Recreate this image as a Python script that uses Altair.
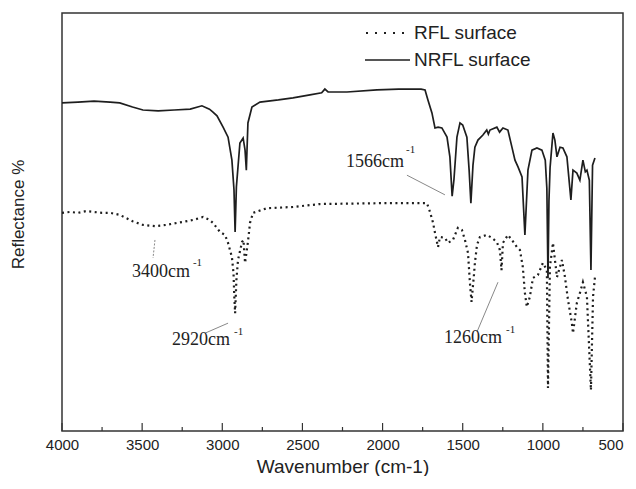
import altair as alt
import pandas as pd

# ---- data ----
nrfl_w = [4000, 3900, 3800, 3700, 3640, 3560, 3495, 3400, 3300, 3200, 3127, 3080, 3058, 3033,
          2995, 2964, 2940, 2927, 2920, 2912, 2890, 2870, 2858, 2850, 2840, 2815, 2765, 2650,
          2559, 2453, 2380, 2360, 2340, 2222, 2035, 1900, 1760, 1735, 1717, 1692, 1673, 1654,
          1630, 1598, 1580, 1566, 1555, 1536, 1517, 1500, 1474, 1460, 1449, 1436, 1424, 1405,
          1374, 1350, 1340, 1330, 1287, 1270, 1249, 1218, 1193, 1174, 1155, 1130, 1112, 1093,
          1068, 1037, 1006, 985, 975, 968, 962, 955, 937, 925, 912, 893, 875, 850, 825, 812,
          788, 769, 750, 735, 725, 710, 700, 690, 675]
nrfl_v = [78.5, 78.7, 78.9, 78.7, 78.5, 77.5, 76.8, 76.6, 76.8, 77.0, 77.8, 77.0, 76.3, 75.4,
          72.7, 70.3, 64.8, 57.7, 47.6, 58.4, 68.9, 70.1, 67.2, 62.4, 73.7, 77.5, 78.7, 79.2,
          79.7, 80.4, 80.9, 81.8, 81.1, 81.1, 81.6, 81.8, 81.8, 81.6, 79.2, 76.1, 72.5, 72.7,
          72.5, 70.3, 65.6, 56.2, 60.0, 70.3, 73.7, 73.2, 70.3, 62.4, 54.5, 63.6, 67.9, 69.6,
          70.8, 72.0, 71.0, 72.0, 72.7, 71.5, 72.5, 72.0, 67.9, 64.8, 63.2, 60.8, 46.9, 62.4,
          67.2, 67.7, 67.2, 64.8, 58.0, 36.6, 55.0, 63.0, 71.3, 69.6, 65.6, 67.9, 67.7, 65.6, 55.3, 62.4,
          61.7, 60.0, 64.8, 62.0, 62.4, 60.0, 38.5, 63.6, 65.3]

rfl_w = [4000, 3950, 3900, 3850, 3800, 3750, 3700, 3640, 3560, 3495, 3420, 3350, 3250, 3180,
         3120, 3080, 3058, 3014, 2983, 2964, 2940, 2930, 2925, 2920, 2912, 2902, 2877, 2868,
         2858, 2840, 2827, 2808, 2721, 2559, 2390, 2016, 1723, 1704, 1685, 1673, 1654, 1642,
         1610, 1592, 1561, 1530, 1505, 1486, 1467, 1455, 1445, 1430, 1424, 1411, 1393, 1349,
         1318, 1287, 1268, 1258, 1249, 1218, 1193, 1162, 1143, 1125, 1112, 1100, 1081, 1062,
         1031, 1000, 975, 968, 956, 937, 912, 881, 862, 843, 819, 812, 788, 769, 750, 725,
         700, 687, 675]
rfl_v = [52.2, 52.4, 52.2, 52.6, 52.4, 52.2, 52.2, 51.7, 50.2, 49.3, 49.0, 49.3, 50.0, 50.5,
         51.2, 50.5, 49.8, 47.6, 46.9, 45.0, 41.6, 37.8, 32.1, 28.2, 36.1, 40.9, 45.2, 45.7,
         40.2, 45.2, 49.8, 52.2, 53.3, 53.6, 54.3, 54.5, 54.5, 52.4, 49.8, 47.4, 44.0, 46.4,
         46.2, 45.0, 45.7, 48.6, 48.1, 45.7, 42.6, 35.4, 30.9, 37.3, 40.2, 44.5, 46.4, 46.9,
         46.2, 45.2, 43.3, 38.5, 45.0, 46.9, 45.7, 44.0, 43.3, 39.2, 33.0, 29.7, 32.1, 36.6,
         37.3, 40.2, 38.5, 10.3, 39.2, 45.0, 36.8, 40.9, 36.8, 31.3, 25.8, 23.4, 30.6, 33.0, 35.6, 32.1,
         9.8, 32.1, 36.8]

assert len(nrfl_w) == len(nrfl_v)
assert len(rfl_w) == len(rfl_v)

tick_labels = [4000, 3500, 3000, 2500, 2000, 1500, 1000, 500]
minor_ticks = [3750, 3250, 2750, 2250, 1750, 1250, 750]

ann_labels = ["1566cm", "3400cm", "2920cm", "1260cm"]
ann_w = [1866, 3201, 2952, 1255]
ann_v = [64.4, 38.0, 21.8, 22.2]
sup_w = [1854, 3183, 2927, 1230]
sup_v = [67.2, 40.2, 23.7, 24.2]
lead_w = [1848, 3420, 3108, 1411]
lead_v = [61.2, 45.7, 23.4, 23.7]
lead_w2 = [1611, 3432, 2964, 1280]
lead_v2 = [56.5, 41.4, 25.8, 35.6]
lead_dash = [False, True, False, False]

legend_names = ["RFL surface", "NRFL surface"]

# ---- tables ----
spec_df = pd.concat([
    pd.DataFrame({"w": nrfl_w, "v": nrfl_v, "series": "NRFL surface"}),
    pd.DataFrame({"w": rfl_w, "v": rfl_v, "series": "RFL surface"}),
])
ticks_df = pd.concat([
    pd.DataFrame({"t": tick_labels, "major": True}),
    pd.DataFrame({"t": minor_ticks, "major": False}),
])
ann_df = pd.DataFrame({"w": ann_w, "v": ann_v, "label": ann_labels,
                       "sw": sup_w, "sv": sup_v, "sup": "-1"})
lead_df = pd.DataFrame({"w": lead_w, "v": lead_v, "w2": lead_w2, "v2": lead_v2, "dash": lead_dash})
leg_df = pd.DataFrame({"name": legend_names})

W, H = 561, 418
xs = alt.Scale(domain=[500, 4000], reverse=True, nice=False, zero=False)
ys = alt.Scale(domain=[0, 100], nice=False, zero=False)
INK = "#1e1e1e"

x_axis = alt.Axis(values=tick_labels, format="d", ticks=False, domain=False, grid=False,
                  labelFlush=False, labelOverlap=False,
                  labelAlign=alt.ExprRef(expr="datum.value == 500 ? 'right' : 'center'"),
                  labelFont="Liberation Sans", labelFontSize=15, labelColor="#222",
                  labelPadding=6, titleFont="Liberation Sans", titleFontSize=19,
                  titleFontWeight="normal", titleColor="#222", titlePadding=5)
y_axis = alt.Axis(labels=False, ticks=False, domain=False, grid=False,
                  titleFont="Liberation Sans", titleFontSize=17,
                  titleFontWeight="normal", titleColor="#222", titleX=-44,
                  titleY=H / 2 - 8, titleAngle=270, titleAlign="center",
                  titleBaseline="middle")
XT = "Wavenumber (cm-1)"
YT = "Reflectance %"


def X(field):
    return alt.X(field, type="quantitative", scale=xs, axis=x_axis, title=XT)


def Y(field):
    return alt.Y(field, type="quantitative", scale=ys, axis=y_axis, title=YT)


base = alt.Chart(spec_df)
nrfl = base.transform_filter(alt.datum.series == "NRFL surface").mark_line(
    color=INK, strokeWidth=1.7, interpolate="linear").encode(x=X("w"), y=Y("v"))
rfl = base.transform_filter(alt.datum.series == "RFL surface").mark_line(
    color=INK, strokeWidth=2.2, strokeDash=[2, 3.5], interpolate="linear").encode(
    x=X("w"), y=Y("v"))

tk = alt.Chart(ticks_df)
major = tk.transform_filter(alt.datum.major).mark_rule(color="#333", strokeWidth=1.2).encode(
    x=X("t"), y=alt.value(H), y2=alt.value(H - 8))
minor = tk.transform_filter(~alt.datum.major).mark_rule(color="#333", strokeWidth=1.2).encode(
    x=X("t"), y=alt.value(H), y2=alt.value(H - 4))

ld = alt.Chart(lead_df)
lead_solid = ld.transform_filter(~alt.datum.dash).mark_rule(color="#555", strokeWidth=0.7).encode(
    x=X("w"), y=Y("v"), x2="w2:Q", y2="v2:Q")
lead_dashed = ld.transform_filter(alt.datum.dash).mark_rule(
    color="#555", strokeWidth=0.7, strokeDash=[2, 1.5]).encode(
    x=X("w"), y=Y("v"), x2="w2:Q", y2="v2:Q")

an = alt.Chart(ann_df)
ann_main = an.mark_text(align="right", baseline="middle", font="Liberation Serif",
                        fontSize=18, color="#222").encode(
    x=X("w"), y=Y("v"), text="label:N")
ann_sup = an.mark_text(align="left", baseline="middle", font="Liberation Serif",
                       fontSize=11, color="#222").encode(
    x=X("sw"), y=Y("sv"), text="sup:N")

lg = alt.Chart(leg_df)
leg_dot = lg.transform_filter(alt.datum.name == legend_names[0]).mark_rule(
    color=INK, strokeWidth=2, strokeDash=[2, 7]).encode(
    x=alt.value(304), x2=alt.value(343), y=alt.value(20))
leg_solid = lg.transform_filter(alt.datum.name == legend_names[1]).mark_rule(
    color=INK, strokeWidth=1.5).encode(
    x=alt.value(303), x2=alt.value(348), y=alt.value(47))
leg_text1 = lg.transform_filter(alt.datum.name == legend_names[0]).mark_text(
    align="left", baseline="middle", font="Liberation Sans", fontSize=19, color="#222").encode(
    x=alt.value(352), y=alt.value(20), text="name:N")
leg_text2 = lg.transform_filter(alt.datum.name == legend_names[1]).mark_text(
    align="left", baseline="middle", font="Liberation Sans", fontSize=19, color="#222").encode(
    x=alt.value(352), y=alt.value(47), text="name:N")

chart = alt.layer(
    nrfl, rfl, major, minor, lead_solid, lead_dashed, ann_main, ann_sup,
    leg_dot, leg_solid, leg_text1, leg_text2
).properties(
    width=W, height=H,
    autosize=alt.AutoSizeParams(type="none"),
    padding={"left": 54, "top": 5, "right": 5, "bottom": 45},
    background="white",
).configure_view(stroke="#333", strokeWidth=1.5)

chart.save("out.html", embed_options={"renderer": "svg", "actions": False})
